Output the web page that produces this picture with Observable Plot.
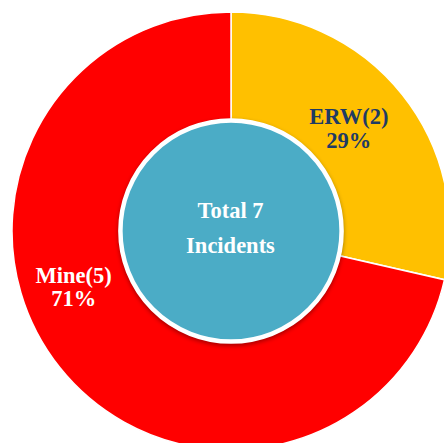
<!DOCTYPE html>
<html><head><meta charset="utf-8">
<script src="https://cdn.jsdelivr.net/npm/d3@7"></script>
<script src="https://cdn.jsdelivr.net/npm/@observablehq/plot@0.6"></script>
<style>html,body{margin:0;padding:0;background:#fff;overflow:hidden}</style>
</head><body><div id="chart"></div>
<script>
// ---- data ----
const categories = ["ERW", "Mine"];
const counts = [2, 5];
const sliceColors = ["#FFC000", "#FF0000"];
const labelColors = ["#1F3B64", "#FFFFFF"];
const centerLines = ["Total 7", "Incidents"];

// ---- layout ----
const W = 444, H = 443;
const R = 219, CX = 231, CY = 231;   // pixel radius & centre of the pie
const hole = 0.505;                  // inner circle radius as a fraction of R
const font = "'Liberation Serif','Times New Roman',serif";

const total = d3.sum(counts);
const data = categories.map((c, i) => ({
  category: c, count: counts[i], pct: Math.round(counts[i] / total * 100), i
}));
const arcs = d3.pie().value(d => d.count).sort(null)(data);
const labelR = (hole + 1) / 2;
arcs.forEach(a => {
  const m = (a.startAngle + a.endAngle) / 2;
  a.data.lx = labelR * Math.sin(m);
  a.data.ly = labelR * Math.cos(m);
  a.data.label = `${a.data.category}(${a.data.count})\n${a.data.pct}%`;
});

const pieMark = Plot.dot([0], {
  x: () => 0, y: () => 0,
  render: (index, scales) => {
    const cx = scales.x(0), cy = scales.y(0), r = scales.x(1) - scales.x(0);
    const g = d3.create("svg:g").attr("transform", `translate(${cx},${cy})`);
    g.selectAll("path").data(arcs).join("path")
      .attr("d", d3.arc().innerRadius(0).outerRadius(r))
      .attr("fill", d => sliceColors[d.index])
      .attr("stroke", "#fff").attr("stroke-width", 1.5).attr("stroke-linejoin", "round");
    return g.node();
  }
});

const holeMark = Plot.dot([0], {
  x: () => 0, y: () => 0,
  render: (index, scales) => {
    const cx = scales.x(0), cy = scales.y(0), r = (scales.x(1) - scales.x(0)) * hole;
    const g = d3.create("svg:g");
    g.append("circle").attr("cx", cx).attr("cy", cy).attr("r", r)
      .attr("fill", "#4BACC6").attr("stroke", "#fff").attr("stroke-width", 4.5)
      .style("filter", "drop-shadow(0px 2px 2px rgba(0,0,0,0.35))");
    return g.node();
  }
});

const textOpts = {fontSize: 22.5, fontWeight: "bold", fontFamily: font, textAnchor: "middle"};
const labelOffsets = [[-11.5, -0.2], [-29, -47.4]];

const marks = [pieMark, holeMark];
data.forEach((d, i) => {
  marks.push(Plot.text([d], {
    x: "lx", y: "ly", text: "label", fill: labelColors[i],
    dx: labelOffsets[i][0], dy: labelOffsets[i][1], lineHeight: 1.04, ...textOpts
  }));
});
marks.push(Plot.text([centerLines.join("\n")], {
  x: () => 0, y: () => 0, text: d => d, fill: "#fff", dx: -1, dy: -7.7, lineHeight: 1.556, ...textOpts
}));

const chart = Plot.plot({
  width: W, height: H,
  margin: 0,
  x: {domain: [-CX / R, (W - CX) / R], axis: null},
  y: {domain: [-(H - CY) / R, CY / R], axis: null},
  style: {background: "#fff", overflow: "hidden"},
  marks
});
document.getElementById("chart").append(chart);
</script>
</body></html>
